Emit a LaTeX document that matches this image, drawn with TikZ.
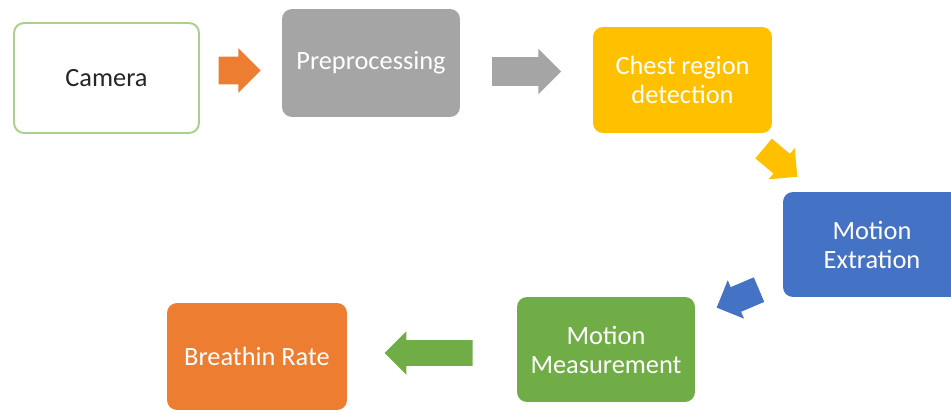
\documentclass[tikz,border=0pt]{standalone}
\usepackage{fontspec}
\setmainfont{Carlito}
\usetikzlibrary{shapes.arrows,calc}
\definecolor{borderg}{HTML}{A9D18E}
\definecolor{boxgray}{HTML}{A5A5A5}
\definecolor{boxgold}{HTML}{FFC000}
\definecolor{boxblue}{HTML}{4472C4}
\definecolor{boxgreen}{HTML}{70AD47}
\definecolor{boxorange}{HTML}{ED7D31}
\definecolor{darktext}{HTML}{262626}

\begin{document}
\begin{tikzpicture}[x=0.02cm,y=-0.02cm,
  box/.style={rectangle,rounded corners=0.2cm,minimum width=3.56cm,minimum height=2.12cm,text=white,align=center,font=\fontsize{15}{16.5}\selectfont},
  blk/.style={single arrow,draw=none,inner xsep=0pt,inner ysep=0.27cm,single arrow head extend=0.17cm}]
\useasboundingbox (0,0) rectangle (951,410);
\clip (0,0) rectangle (951,410);
\node[box,draw=borderg,line width=1.1pt,fill=white,text=darktext,minimum width=3.7cm,minimum height=2.2cm] (camera) at (106.5,78) {Camera};
\node[box,fill=boxgray,minimum height=2.16cm] (prep) at (371,63) {Preprocessing};
\node[box,fill=boxgold,minimum width=3.58cm] (chest) at (682.5,80) {Chest region\\detection};
\node[box,fill=boxblue,minimum height=2.1cm] (extr) at (872,244.5) {Motion\\Extration};
\node[box,fill=boxgreen,minimum height=2.1cm] (meas) at (606,349.5) {Motion\\Measurement};
\node[box,fill=boxorange,minimum width=3.6cm,minimum height=2.14cm] (rate) at (257,356.5) {Breathin Rate};

\node[blk,fill=boxorange,minimum height=0.84cm] (a1) at ($(camera.east)!0.5!(prep.west)+(-8,0)$) {};
\node[blk,fill=boxgray,minimum height=1.38cm,inner ysep=0.28cm] (a2) at ($(prep.east)!0.5!(chest.west)+(-7,0)$) {};
\node[blk,fill=boxgold,minimum height=0.88cm,inner ysep=0.25cm,single arrow head extend=0.15cm,rotate=-40] (a3) at ($(chest.south east)!0.5!(extr.north west)+(-2,-4)$) {};
\node[blk,fill=boxblue,minimum height=0.92cm,inner ysep=0.26cm,single arrow head extend=0.15cm,rotate=-157] (a4) at ($(extr.south west)!0.5!(meas.north east)+(5,-1)$) {};
\node[blk,fill=boxgreen,minimum height=1.76cm,inner ysep=0.25cm,single arrow head extend=0.18cm,rotate=180] (a5) at ($(meas.west)!0.5!(rate.east)+(3,0)$) {};
\end{tikzpicture}
\end{document}
